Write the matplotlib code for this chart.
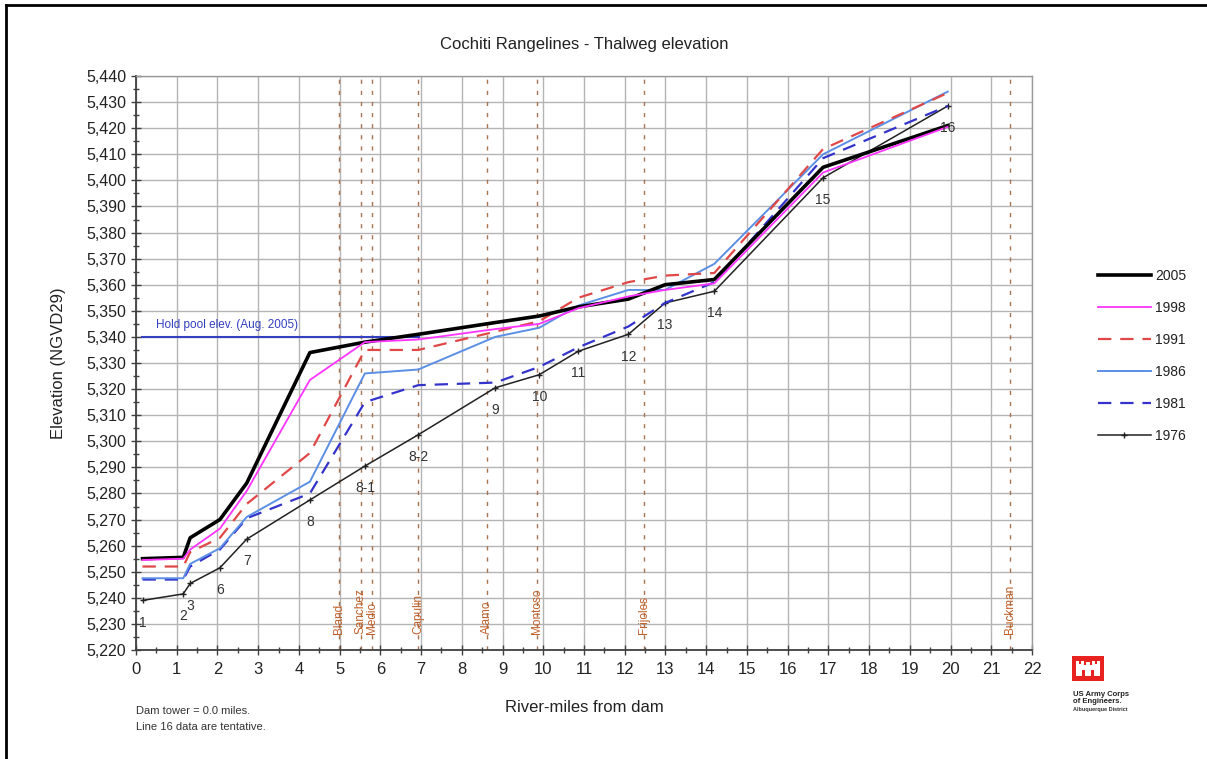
import matplotlib
matplotlib.use("Agg")
import matplotlib.pyplot as plt
from matplotlib.lines import Line2D
from matplotlib.patches import Rectangle, Polygon
from matplotlib.ticker import MultipleLocator, FuncFormatter

plt.rcParams['font.family'] = ['Liberation Sans', 'DejaVu Sans']

# Rangeline positions (river-miles from dam) and their names
miles = [0.16, 1.16, 1.33, 2.06, 2.72, 4.27, 5.62, 6.93, 8.82, 9.90,
         10.86, 12.09, 12.99, 14.20, 16.87, 19.93]
range_names = ['1', '2', '3', '6', '7', '8', '8-1', '8-2', '9', '10',
               '11', '12', '13', '14', '15', '16']

# Thalweg elevations (ft, NGVD29) by survey year
elev_2005 = [5255, 5255.5, 5263, 5270, 5284, 5334, 5338, 5341, 5345.5, 5348,
             5351.5, 5354.5, 5360, 5362, 5405, 5421]
elev_1998 = [5254.5, 5255, 5258.5, 5266.5, 5281, 5323.5, 5338, 5339, 5343, 5345,
             5351, 5355.5, 5358, 5360.5, 5403, 5420.5]
elev_1991 = [5252, 5252, 5257.5, 5263, 5276, 5295.5, 5335, 5335, 5342, 5346,
             5355, 5361, 5363.5, 5364.5, 5412, 5433.5]
elev_1986 = [5247.5, 5247.5, 5253, 5259, 5271, 5284.5, 5326, 5327.5, 5340, 5343.5,
             5352, 5358, 5358, 5368, 5410, 5434]
elev_1981 = [5247, 5247, 5252, 5258.5, 5270.5, 5280, 5315, 5321.5, 5322.5, 5328.5,
             5336, 5344, 5353, 5361, 5408.5, 5428.5]
elev_1976 = [5239, 5241.5, 5245.5, 5251.5, 5262.5, 5277.5, 5290.5, 5302.5, 5320.5, 5325.5,
             5334.5, 5341, 5353, 5357.5, 5401, 5428.5]

# Tributary / arroyo crossings
arroyo_names = ['Bland', 'Sanchez', 'Medio', 'Capulin', 'Alamo', 'Montoso', 'Frijoles', 'Buckman']
arroyo_miles = [4.98, 5.52, 5.79, 6.93, 8.62, 9.85, 12.47, 21.46]

hold_pool_elev = 5340
hold_pool_span = [0.15, 6.95]

W, H = 1207, 759
fig = plt.figure(figsize=(W / 100, H / 100), dpi=100)
fig.patch.set_facecolor('white')

L, R, T, B = 136, 1032, 76, 650
ax = fig.add_axes([L / W, 1 - B / H, (R - L) / W, (B - T) / H])
ax.set_xlim(0, 22)
ax.set_ylim(5220, 5440)

ax.xaxis.set_major_locator(MultipleLocator(1))
ax.xaxis.set_minor_locator(MultipleLocator(0.5))
ax.yaxis.set_major_locator(MultipleLocator(10))
ax.yaxis.set_minor_locator(MultipleLocator(5))
ax.yaxis.set_major_formatter(FuncFormatter(lambda v, p: f"{int(v):,}"))
ax.grid(True, which='major', color='#b4b4b4', lw=1.0, zorder=0)
ax.set_axisbelow(True)
ax.tick_params(which='major', direction='inout', length=7, width=1, color='#404040',
               labelcolor='#222222')
ax.tick_params(axis='y', which='major', labelsize=11.5)
ax.tick_params(axis='x', which='major', labelsize=12, pad=5)
ax.tick_params(which='minor', direction='inout', length=4, width=1, color='#404040')
for s in ['left', 'bottom']:
    ax.spines[s].set_color('#404040')
    ax.spines[s].set_linewidth(1.3)
for s in ['top', 'right']:
    ax.spines[s].set_color('#9a9a9a')
    ax.spines[s].set_linewidth(1.0)

# Arroyo crossings
for nm, xm in zip(arroyo_names, arroyo_miles):
    ax.axvline(xm, color='#a8744f', lw=1.0, dashes=(3, 5), zorder=1)
for nm, xm in zip(arroyo_names, arroyo_miles):
    ax.text(xm, 5226, nm, rotation=90, ha='center', va='bottom', fontsize=8.5,
            color='#c0602a', zorder=2)

# Hold pool elevation
ax.plot(hold_pool_span, [hold_pool_elev, hold_pool_elev], color='#3340c0', lw=1.5, zorder=3)
ax.text(0.5, hold_pool_elev + 2.2, 'Hold pool elev. (Aug. 2005)', fontsize=8.5,
        color='#3340c0', ha='left', va='bottom')

# Survey profiles
ax.plot(miles, elev_1976, color='#222222', lw=1.1, marker='+', ms=4, mew=1,
        label='1976', zorder=4)
ax.plot(miles, elev_1981, color='#3333cc', lw=1.6, dashes=(6, 4), label='1981', zorder=4)
ax.plot(miles, elev_1986, color='#5b8fe6', lw=1.4, label='1986', zorder=4)
ax.plot(miles, elev_1991, color='#e04848', lw=1.6, dashes=(6, 4), label='1991', zorder=4)
ax.plot(miles, elev_2005, color='black', lw=2.6, label='2005', zorder=5)
ax.plot(miles, elev_1998, color='#ff33ff', lw=1.3, label='1998', zorder=6)

# Rangeline numbers under the 1976 profile
for nm, xm, ym in zip(range_names, miles, elev_1976):
    ax.annotate(nm, (xm, ym), xytext=(0, -16), textcoords='offset points',
                ha='center', va='center', fontsize=10, color='#333333', zorder=7)

fig.text(0.5 * (L + R) / W, 1 - 44 / H, 'Cochiti Rangelines - Thalweg elevation',
         fontsize=12, color='#222222', ha='center', va='center')
fig.text(0.5 * (L + R) / W, 1 - 707 / H, 'River-miles from dam',
         fontsize=12, color='#222222', ha='center', va='center')
fig.text(58 / W, 1 - 0.5 * (T + B) / H, 'Elevation (NGVD29)', rotation=90,
         fontsize=12, color='#222222', ha='center', va='center')

# Legend
order = ['2005', '1998', '1991', '1986', '1981', '1976']
handles, labels = ax.get_legend_handles_labels()
hmap = dict(zip(labels, handles))
fig.legend([hmap[k] for k in order], order, loc='upper left',
           bbox_to_anchor=(1098 / W, 1 - 269 / H), frameon=False, fontsize=10,
           handlelength=3.8, handletextpad=0.3, labelspacing=1.3,
           borderpad=0, borderaxespad=0, labelcolor='#222222')

# Notes
fig.text(136 / W, 1 - 711 / H, 'Dam tower = 0.0 miles.', fontsize=8, color='#333333', va='center')
fig.text(136 / W, 1 - 727 / H, 'Line 16 data are tentative.', fontsize=8, color='#333333', va='center')

# Corps castle badge
lx, ly, lw_, lh_ = 1072 / W, 1 - 681 / H, 32 / W, 25 / H
fig.add_artist(Rectangle((lx, ly), lw_, lh_, transform=fig.transFigure,
                         facecolor='#e8231f', edgecolor='none'))
px = lambda v: v / W
py = lambda v: 1 - v / H
castle = [(1076, 676), (1076, 661), (1079, 661), (1079, 664), (1081, 664), (1081, 661),
          (1084, 661), (1084, 665), (1086, 665), (1086, 662), (1090, 662), (1090, 665),
          (1092, 665), (1092, 661), (1095, 661), (1095, 664), (1097, 664), (1097, 661),
          (1100, 661), (1100, 676), (1094, 676), (1094, 670), (1091, 670), (1091, 676),
          (1085, 676), (1085, 670), (1082, 670), (1082, 676)]
fig.add_artist(Polygon([(px(a), py(b)) for a, b in castle], closed=True,
                       transform=fig.transFigure, facecolor='white', edgecolor='none'))
fig.text(1073 / W, 1 - 698 / H, 'US Army Corps\nof Engineers.', fontsize=5.5,
         fontweight='bold', color='#222222', va='center', linespacing=1.0)
fig.text(1073 / W, 1 - 710 / H, 'Albuquerque District', fontsize=4, fontweight='bold',
         color='#333333', va='center')

# Page frame
fig.add_artist(Line2D([6 / W, 6 / W], [0, 1 - 5 / H], transform=fig.transFigure,
                      color='black', lw=2))
fig.add_artist(Line2D([6 / W, 1], [1 - 5 / H, 1 - 5 / H], transform=fig.transFigure,
                      color='black', lw=2))

fig.savefig('out.png', dpi=100, facecolor='white')
